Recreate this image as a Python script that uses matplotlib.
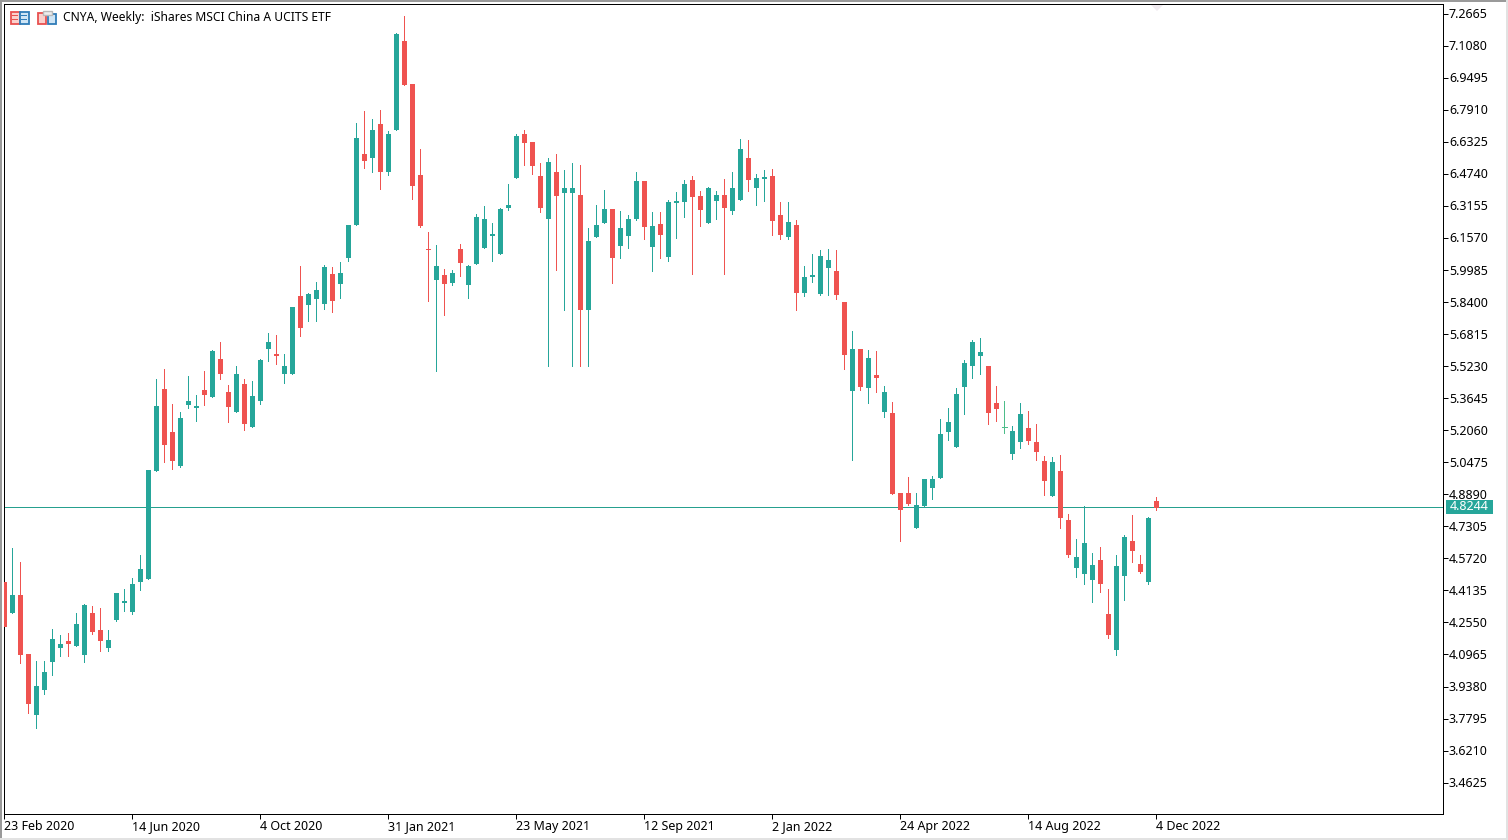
"""Weekly candlestick chart of CNYA in a MetaTrader style layout."""

import matplotlib
matplotlib.use("Agg")
import matplotlib.pyplot as plt
from matplotlib.patches import Polygon, Rectangle
from matplotlib.transforms import ScaledTranslation

W, H = 1508, 840

UP = "#26a69a"
DOWN = "#ef5350"
DOJI = "#4dbd8a"
LAST_LINE = "#26a08f"

opens = [
    4.455, 4.302, 4.391, 4.099, 3.797, 3.921, 4.059, 4.128, 4.163, 4.138,
    4.094, 4.302, 4.218, 4.128, 4.267, 4.351, 4.307, 4.455, 4.470, 5.004,
    5.410, 5.197, 5.029, 5.331, 5.316, 5.405, 5.370, 5.558, 5.395, 5.296,
    5.435, 5.222, 5.351, 5.608, 5.583, 5.484, 5.484, 5.870, 5.825, 5.855,
    5.830, 5.979, 5.929, 6.058, 6.221, 6.572, 6.553, 6.721, 6.483, 6.691,
    7.131, 6.919, 6.468, 6.103, 5.949, 5.974, 5.934, 6.103, 5.924, 6.028,
    6.107, 6.167, 6.078, 6.305, 6.454, 6.671, 6.632, 6.463, 6.251, 6.483,
    6.379, 6.379, 6.369, 5.801, 6.162, 6.231, 6.300, 6.117, 6.167, 6.251,
    6.439, 6.112, 6.226, 6.063, 6.330, 6.335, 6.444, 6.365, 6.231, 6.340,
    6.369, 6.290, 6.345, 6.553, 6.404, 6.449, 6.463, 6.270, 6.162, 6.221,
    5.885, 5.964, 5.880, 6.009, 5.994, 5.840, 5.400, 5.608, 5.415, 5.479,
    5.296, 5.291, 4.895, 4.895, 4.722, 4.831, 4.920, 4.970, 5.197, 5.123,
    5.420, 5.523, 5.573, 5.523, 5.341, 5.220, 5.088, 5.148, 5.217, 5.148,
    5.054, 4.880, 5.004, 4.762, 4.525, 4.495, 4.465, 4.564, 4.297, 4.119,
    4.485, 4.658, 4.544, 4.455, 4.856,
]
highs = [
    4.455, 4.624, 4.554, 4.099, 4.064, 4.064, 4.223, 4.193, 4.203, 4.302,
    4.346, 4.336, 4.326, 4.218, 4.401, 4.421, 4.475, 4.589, 5.009, 5.460,
    5.509, 5.336, 5.296, 5.474, 5.380, 5.499, 5.603, 5.642, 5.430, 5.523,
    5.460, 5.450, 5.558, 5.687, 5.677, 5.583, 5.816, 6.019, 5.885, 5.939,
    6.023, 6.013, 6.038, 6.221, 6.726, 6.785, 6.745, 6.790, 6.686, 7.171,
    7.255, 6.919, 6.597, 6.187, 6.123, 6.004, 5.999, 6.127, 6.023, 6.275,
    6.315, 6.231, 6.305, 6.424, 6.671, 6.691, 6.632, 6.528, 6.553, 6.572,
    6.493, 6.528, 6.518, 6.206, 6.320, 6.394, 6.300, 6.290, 6.270, 6.483,
    6.439, 6.285, 6.285, 6.345, 6.384, 6.444, 6.463, 6.389, 6.409, 6.389,
    6.449, 6.483, 6.647, 6.642, 6.473, 6.493, 6.498, 6.335, 6.335, 6.246,
    6.019, 6.078, 6.098, 6.103, 6.098, 5.840, 5.697, 5.608, 5.603, 5.598,
    5.425, 5.346, 4.895, 4.974, 4.895, 4.965, 4.979, 5.262, 5.316, 5.415,
    5.553, 5.652, 5.662, 5.523, 5.425, 5.351, 5.227, 5.341, 5.301, 5.237,
    5.079, 5.074, 5.084, 4.791, 4.668, 4.831, 4.599, 4.629, 4.421, 4.589,
    4.688, 4.786, 4.589, 4.777, 4.875,
]
lows = [
    4.233, 4.302, 4.054, 3.807, 3.733, 3.901, 3.995, 4.089, 4.089, 4.138,
    4.059, 4.198, 4.114, 4.114, 4.262, 4.312, 4.297, 4.416, 4.470, 5.004,
    5.049, 5.014, 5.024, 5.316, 5.252, 5.331, 5.370, 5.460, 5.247, 5.296,
    5.207, 5.222, 5.336, 5.548, 5.533, 5.440, 5.484, 5.672, 5.746, 5.746,
    5.806, 5.791, 5.860, 6.043, 6.221, 6.503, 6.483, 6.399, 6.468, 6.691,
    6.914, 6.350, 6.211, 5.845, 5.499, 5.776, 5.924, 5.969, 5.860, 6.028,
    6.107, 6.043, 6.078, 6.295, 6.454, 6.518, 6.473, 6.285, 5.523, 5.999,
    5.801, 5.523, 5.523, 5.523, 6.162, 6.231, 5.934, 6.058, 6.107, 6.246,
    6.152, 5.994, 6.058, 6.043, 6.157, 6.260, 5.979, 6.216, 6.231, 6.251,
    5.979, 6.275, 6.345, 6.389, 6.320, 6.340, 6.172, 6.152, 6.152, 5.801,
    5.870, 5.939, 5.875, 5.875, 5.855, 5.509, 5.059, 5.405, 5.341, 5.395,
    5.272, 4.890, 4.658, 4.836, 4.722, 4.826, 4.866, 4.970, 5.158, 5.123,
    5.286, 5.465, 5.484, 5.237, 5.252, 5.192, 5.064, 5.118, 5.138, 5.059,
    4.885, 4.880, 4.722, 4.579, 4.480, 4.445, 4.356, 4.406, 4.178, 4.094,
    4.366, 4.554, 4.500, 4.445, 4.811,
]
closes = [
    4.233, 4.391, 4.094, 3.851, 3.940, 4.010, 4.173, 4.148, 4.148, 4.247,
    4.341, 4.208, 4.163, 4.168, 4.401, 4.361, 4.445, 4.520, 5.009, 5.326,
    5.133, 5.054, 5.267, 5.351, 5.326, 5.380, 5.598, 5.484, 5.321, 5.484,
    5.237, 5.375, 5.553, 5.642, 5.573, 5.523, 5.816, 5.712, 5.880, 5.900,
    6.013, 5.845, 5.984, 6.221, 6.652, 6.538, 6.691, 6.483, 6.671, 7.166,
    6.914, 6.414, 6.216, 6.098, 6.019, 5.929, 5.984, 6.033, 6.019, 6.260,
    6.251, 6.177, 6.300, 6.320, 6.661, 6.627, 6.513, 6.305, 6.533, 6.365,
    6.404, 6.404, 5.801, 6.142, 6.221, 6.300, 6.058, 6.206, 6.251, 6.439,
    6.211, 6.216, 6.172, 6.335, 6.340, 6.424, 6.360, 6.295, 6.404, 6.369,
    6.305, 6.404, 6.597, 6.444, 6.454, 6.458, 6.241, 6.172, 6.236, 5.885,
    5.964, 5.974, 6.068, 6.048, 5.875, 5.578, 5.608, 5.420, 5.563, 5.465,
    5.395, 4.890, 4.811, 4.841, 4.836, 4.965, 4.965, 5.187, 5.247, 5.385,
    5.538, 5.642, 5.593, 5.291, 5.311, 5.220, 5.202, 5.286, 5.153, 5.098,
    4.955, 5.049, 4.772, 4.589, 4.579, 4.648, 4.539, 4.445, 4.193, 4.534,
    4.678, 4.609, 4.505, 4.772, 4.821,
]

last_price = 4.8244
price_ticks = [
    7.2665, 7.1080, 6.9495, 6.7910, 6.6325, 6.4740, 6.3155, 6.1570, 5.9985,
    5.8400, 5.6815, 5.5230, 5.3645, 5.2060, 5.0475, 4.8890, 4.7305, 4.5720,
    4.4135, 4.2550, 4.0965, 3.9380, 3.7795, 3.6210, 3.4625,
]
date_ticks = list(range(0, 145, 16))
date_labels = [
    "23 Feb 2020", "14 Jun 2020", "4 Oct 2020", "31 Jan 2021", "23 May 2021",
    "12 Sep 2021", "2 Jan 2022", "24 Apr 2022", "14 Aug 2022", "4 Dec 2022",
]
title = "CNYA, Weekly:  iShares MSCI China A UCITS ETF"

FONT = "Noto Sans"
FS = 9

fig = plt.figure(figsize=(W / 100, H / 100), dpi=100, facecolor="white")
# frame edges sit just under the pixel centres so snapping lands them right
ax = fig.add_axes([4.2 / W, 1 - 814.2 / H, 1439 / W, 810 / H])
ax.set_xlim(-0.2 / 8, 1438.8 / 8)
ax.set_ylim(3.3064, 7.3135)

# last price line sits behind the candles
ax.axhline(last_price, color=LAST_LINE, lw=0.72, antialiased=False, zorder=1)

for i, (o, h, l, c) in enumerate(zip(opens, highs, lows, closes)):
    if o == c:
        col = DOJI
    else:
        col = UP if c > o else DOWN
    ax.vlines(i, l, h, color=col, lw=0.72, antialiased=False, zorder=2)
    if o == c:
        ax.hlines(o, i - 2.5 / 8, i + 2.5 / 8, color=col, lw=0.72,
                  antialiased=False, zorder=3)
    else:
        ax.bar(i, abs(c - o), bottom=min(o, c), width=5 / 8, color=col,
               linewidth=0, zorder=3)

for s in ("top", "left", "right", "bottom"):
    ax.spines[s].set_linewidth(0.72)
    ax.spines[s].set_color("black")

ax.yaxis.tick_right()
ax.set_yticks(price_ticks)
ax.set_yticklabels([f"{p:.4f}" for p in price_ticks], family=FONT, fontsize=FS)
ax.set_xticks(date_ticks)
ax.set_xticklabels(date_labels, family=FONT, fontsize=FS, ha="left", va="baseline")
ax.tick_params(axis="y", length=3.6, width=0.72, pad=0.5)
ax.tick_params(axis="x", length=3.6, width=0.72, pad=7.8)

# digits of the scale sit a little above the tick
nudge = ScaledTranslation(0, 0.5 / 100, fig.dpi_scale_trans)
for lbl in ax.get_yticklabels():
    lbl.set_transform(lbl.get_transform() + nudge)

fig.text(63 / W, 1 - 18 / H, title, family=FONT, fontsize=8.68, va="center",
         ha="left", color="black")


def px_rect(x, y, w, h, **kw):
    """Rectangle on the figure, in pixels from the top left corner."""
    fig.add_artist(Rectangle((x / W, 1 - (y + h) / H), w / W, h / H,
                             transform=fig.transFigure, linewidth=kw.pop("lw", 0), **kw))


# price flag on the scale
px_rect(1446, 500, 47, 14, color=UP)
fig.text(1469.5 / W, 1 - 507 / H, f"{last_price:.4f}", family=FONT, fontsize=FS,
         color="white", va="center", ha="center", zorder=5)

# window edge
px_rect(0, 0, W, 1.5, color="#9a9a9a")
px_rect(0, 0, 2, H, color="#9a9a9a")
px_rect(W - 2, 0, 2, H, color="#e2e2e2")
px_rect(0, H - 2, W, 2, color="#e2e2e2")

# small shift marker at the top of the chart
fig.add_artist(Polygon([(1151 / W, 1 - 5 / H), (1163 / W, 1 - 5 / H), (1157 / W, 1 - 11 / H)],
                       transform=fig.transFigure, fc="#f1ebf0", ec="none"))

# the two toolbar icons
RED_I = "#e8504f"
BLUE_I = "#2f7cb8"
px_rect(10.5, 11.5, 9, 12, fc="#fbd0cc", ec=RED_I, lw=1.3)
px_rect(19.5, 11.5, 9, 12, fc="#cfe5f5", ec=BLUE_I, lw=1.3)
for yy in (15, 19):
    px_rect(12, yy, 6, 1.3, color=RED_I)
    px_rect(21, yy, 6, 1.3, color=BLUE_I)
px_rect(37.5, 12.5, 8, 11, fc="#fbd0cc", ec=RED_I, lw=1.3)
px_rect(47.5, 13.5, 8, 10, fc="#cfe5f5", ec=BLUE_I, lw=1.3)
px_rect(43, 10.5, 9, 4, fc="#eeeeee", ec="#b9b9b9", lw=1.0)

fig.savefig("out.png", dpi=100, facecolor="white")
